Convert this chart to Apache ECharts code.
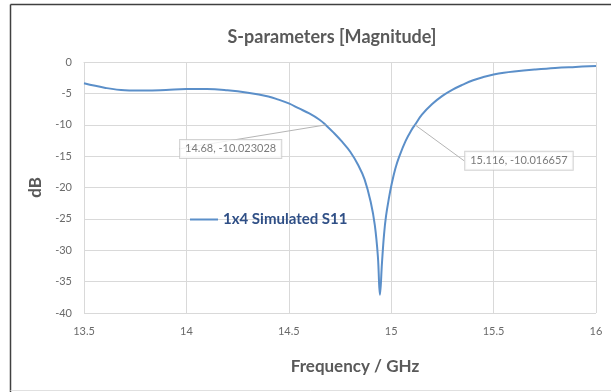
<!DOCTYPE html>
<html>
<head>
<meta charset="utf-8">
<script src="https://cdn.jsdelivr.net/npm/echarts@6/dist/echarts.min.js"></script>
<style>
  html, body { margin: 0; padding: 0; background: #fff; }
  #chart { width: 611px; height: 392px; }
</style>
</head>
<body>
<div id="chart"></div>
<script>
// Simulated S11 magnitude of the 1x4 array (dB) versus frequency (GHz)
const freqGHz = [13.5, 13.6, 13.7, 13.8, 13.9, 14.0, 14.1, 14.2, 14.3, 14.4, 14.45, 14.5, 14.55, 14.6, 14.65,
  14.68, 14.72, 14.76, 14.8, 14.84, 14.87, 14.9, 14.92, 14.935, 14.945, 14.955, 14.965, 14.975, 14.99, 15.0,
  15.02, 15.04, 15.07, 15.1, 15.116, 15.15, 15.2, 15.25, 15.3, 15.35, 15.4, 15.45, 15.5, 15.55, 15.6, 15.7,
  15.8, 15.9, 16.0];
const s11dB = [-3.4, -4.1, -4.5, -4.55, -4.45, -4.3, -4.3, -4.5, -4.9, -5.5, -6.0, -6.6, -7.4, -8.2, -9.2,
  -10.023028, -11.3, -12.7, -14.3, -16.5, -18.7, -22.3, -26, -31, -37.1, -32, -27.5, -24.5, -21.5, -19.8,
  -17.0, -15.0, -12.6, -10.8, -10.016657, -8.4, -6.7, -5.4, -4.4, -3.6, -2.9, -2.4, -2.0, -1.7, -1.5, -1.2,
  -0.95, -0.78, -0.62];

// -10 dB crossing points that carry a value callout
const markedFreq = [14.68, 15.116];
const markedDB = [-10.023028, -10.016657];

const xTicks = { min: 13.5, max: 16, step: 0.5 };
const yTicks = { min: -40, max: 0, step: 5 };

const seriesName = '1x4 Simulated S11';
const font = 'Lato, "Open Sans", sans-serif';

const lineData = freqGHz.map((f, i) => [f, s11dB[i]]);
const calloutData = markedFreq.map((f, i) => [f, markedDB[i]]);
const calloutShift = [[-95, 24], [104, 36]];

const chart = echarts.init(document.getElementById('chart'), null, { renderer: 'canvas' });

chart.setOption({
  animation: false,
  backgroundColor: '#fff',
  textStyle: { fontFamily: font },
  title: {
    text: 'S-parameters [Magnitude]',
    left: 327, top: 23, textAlign: 'center',
    textStyle: { fontFamily: font, fontSize: 18, fontWeight: 'bold', color: '#595959' }
  },
  legend: {
    data: [{ name: seriesName, icon: 'rect' }],
    left: 185, top: 207,
    itemWidth: 28, itemHeight: 2, itemGap: 6,
    textStyle: { fontFamily: font, fontSize: 15, fontWeight: 'bold', color: '#2F4F86' }
  },
  grid: { left: 84, right: 15, top: 62, bottom: 79 },
  xAxis: {
    type: 'value',
    min: xTicks.min, max: xTicks.max, interval: xTicks.step,
    name: 'Frequency / GHz',
    nameLocation: 'middle', nameGap: 45,
    nameTextStyle: { fontFamily: font, fontSize: 17, fontWeight: 'bold', color: '#595959', padding: [0, 0, 0, 30] },
    axisLine: { show: true, lineStyle: { color: '#d9d9d9' } },
    axisTick: { show: false },
    axisLabel: { fontFamily: font, fontSize: 11, color: '#6a6a6a', margin: 13 },
    splitLine: { show: true, lineStyle: { color: '#d9d9d9' } }
  },
  yAxis: {
    type: 'value',
    min: yTicks.min, max: yTicks.max, interval: yTicks.step,
    name: 'dB',
    nameLocation: 'middle', nameGap: 40, nameRotate: 90,
    nameTextStyle: { fontFamily: font, fontSize: 17, fontWeight: 'bold', color: '#595959' },
    axisLine: { show: false },
    axisTick: { show: false },
    axisLabel: { fontFamily: font, fontSize: 11, color: '#6a6a6a', margin: 12 },
    splitLine: { show: true, lineStyle: { color: '#d9d9d9' } }
  },
  series: [
    {
      name: seriesName,
      type: 'line',
      data: lineData,
      symbol: 'none',
      smooth: 0.4,
      lineStyle: { color: '#5B8FC9', width: 2 },
      itemStyle: { color: '#5B8FC9' },
      z: 3
    },
    {
      type: 'scatter',
      data: calloutData,
      symbolSize: 0,
      silent: true,
      z: 4,
      label: {
        show: true,
        formatter: p => p.value[0] + ', ' + p.value[1],
        fontFamily: font, fontSize: 11, color: '#595959',
        backgroundColor: '#fff',
        borderColor: '#c8c8c8', borderWidth: 1,
        padding: [4, 5, 3, 5]
      },
      labelLine: { show: true, lineStyle: { color: '#b5b5b5', width: 1 } },
      labelLayout: p => ({ dx: calloutShift[p.dataIndex][0], dy: calloutShift[p.dataIndex][1] })
    }
  ],
  graphic: [
    { type: 'line', shape: { x1: 10.5, y1: 4.5, x2: 611, y2: 4.5 }, style: { stroke: '#404040', lineWidth: 1.5 }, silent: true },
    { type: 'line', shape: { x1: 10.5, y1: 4.5, x2: 10.5, y2: 392 }, style: { stroke: '#404040', lineWidth: 1.5 }, silent: true },
    { type: 'line', shape: { x1: 10.5, y1: 390.5, x2: 611, y2: 390.5 }, style: { stroke: '#e0e0e0', lineWidth: 1 }, silent: true }
  ]
});
</script>
</body>
</html>
